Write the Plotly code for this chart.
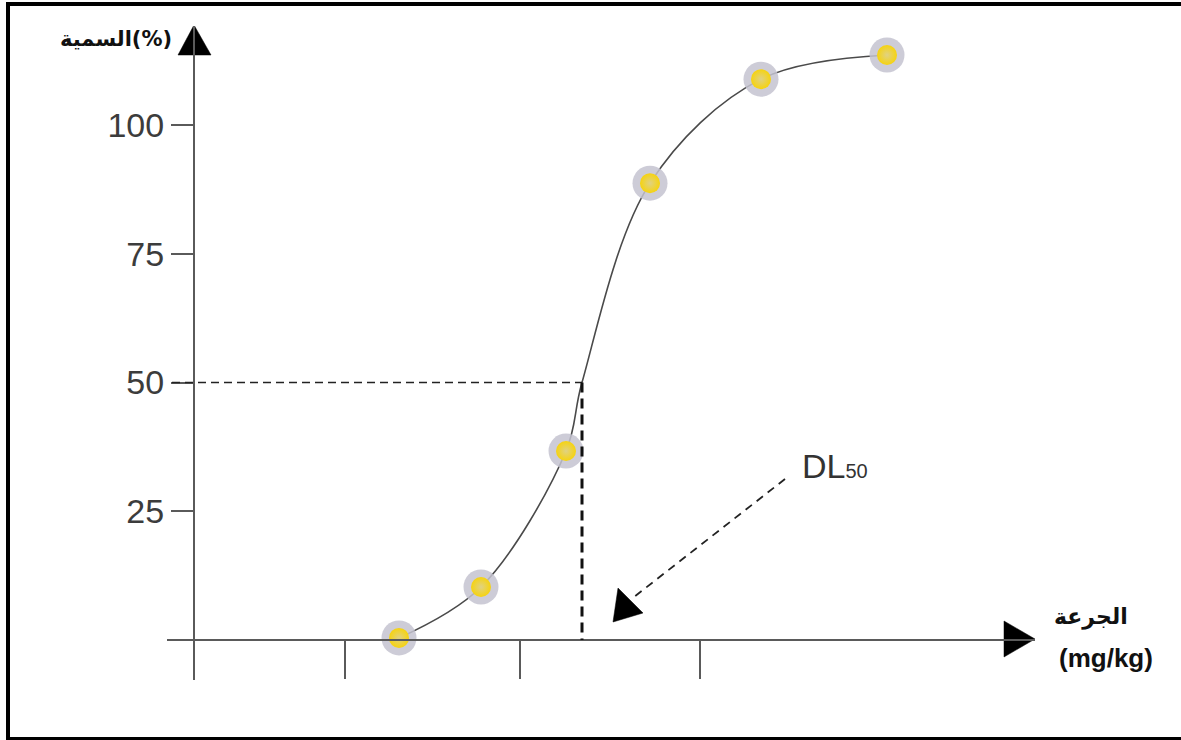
import plotly.graph_objects as go

W, H = 1181, 740

# ---------------- data ----------------
dose = [20.5, 28.7, 37.2, 45.6, 56.7, 69.3]          # arbitrary dose units
toxicity = [0.4, 10.3, 36.7, 88.7, 108.9, 113.6]     # %
dl50_dose = 38.8
dl50_tox = 50
y_ticks = [25, 50, 75, 100]
y_tick_labels = ["25", "50", "75", "100"]
x_ticks = [15.1, 32.6, 50.6]

y_title = "السمية(%)"
x_title_ar = "الجرعة"
x_title_unit = "(mg/kg)"
dl_label = "DL<span style='font-size:20px'>50</span>"

# ---------------- geometry ----------------
PXX, PXY = 10.0, 5.15          # pixels per unit
X0, Y0 = 194, 640              # pixel position of the origin
XR = [(167 - X0) / PXX, (1035 - X0) / PXX]
YR = [(Y0 - 680) / PXY, (Y0 - 26) / PXY]
ML = X0 + XR[0] * PXX
MR = W - (X0 + XR[1] * PXX)
MT = Y0 - YR[1] * PXY
MB = H - (Y0 - YR[0] * PXY)
PW, PH = W - ML - MR, H - MT - MB


def dx(px):
    return (px - X0) / PXX


def dy(py):
    return (Y0 - py) / PXY


def paper_x(px):
    return (px - ML) / PW


def paper_y(py):
    return (H - MB - py) / PH


AX = "#5a5a5a"
fig = go.Figure()

# curve through the points (incl. DL50 point)
curve = sorted(zip(dose + [dl50_dose], toxicity + [dl50_tox]))
fig.add_trace(go.Scatter(
    x=[c[0] for c in curve], y=[c[1] for c in curve], mode="lines",
    line=dict(color="#4a4a4a", width=1.6, shape="spline", smoothing=1.0),
    hoverinfo="skip", showlegend=False, cliponaxis=False))

# markers: halo + yellow core
fig.add_trace(go.Scatter(
    x=dose, y=toxicity, mode="markers",
    marker=dict(size=35, color="rgba(196,195,208,0.85)", line=dict(width=0)),
    showlegend=False, cliponaxis=False, hoverinfo="skip"))
fig.add_trace(go.Scatter(
    x=dose, y=toxicity, mode="markers",
    marker=dict(size=20, color="#f6d30f", line=dict(width=0),
                gradient=dict(type="radial", color="#e0d283")),
    showlegend=False, cliponaxis=False))

# arrow heads (filled triangles)
tri_sets = [
    [(X0, 25), (X0 - 16, 55), (X0 + 17, 55)],          # y axis
    [(1035, 639), (1004, 621), (1004, 657)],           # x axis
    [(613, 622), (618, 588), (643, 613)],              # DL50 pointer
]
for tri in tri_sets:
    fig.add_trace(go.Scatter(
        x=[dx(p[0]) for p in tri] + [dx(tri[0][0])],
        y=[dy(p[1]) for p in tri] + [dy(tri[0][1])],
        mode="lines", fill="toself", fillcolor="#000000",
        line=dict(width=0.5, color="#000000"),
        showlegend=False, hoverinfo="skip", cliponaxis=False))

shapes = [
    # DL50 reference dashed lines
    dict(type="line", xref="x", yref="y", x0=dx(172), x1=dl50_dose,
         y0=dl50_tox, y1=dl50_tox, line=dict(color="#222", width=1.6, dash="8px,5px")),
    dict(type="line", xref="x", yref="y", x0=dl50_dose, x1=dl50_dose,
         y0=dl50_tox, y1=0, line=dict(color="#111", width=3, dash="10px,6px")),
    # pointer dashed line
    dict(type="line", xref="x", yref="y", x0=dx(785), y0=dy(479), x1=dx(634), y1=dy(597),
         line=dict(color="#222", width=1.8, dash="8px,6px")),
    # frame
    dict(type="rect", xref="paper", yref="paper",
         x0=paper_x(8), x1=paper_x(1190), y0=paper_y(739), y1=paper_y(4),
         line=dict(color="#000", width=4)),
]

annotations = [
    dict(xref="paper", yref="paper", x=paper_x(116), y=paper_y(39), text=f"<b>{y_title}</b>",
         showarrow=False, font=dict(family="DejaVu Sans", size=21, color="#111"),
         xanchor="center", yanchor="middle"),
    dict(xref="paper", yref="paper", x=paper_x(1091), y=paper_y(617), text=f"<b>{x_title_ar}</b>",
         showarrow=False, font=dict(family="DejaVu Sans", size=22, color="#111"),
         xanchor="center", yanchor="middle"),
    dict(xref="paper", yref="paper", x=paper_x(1106), y=paper_y(658), text=f"<b>{x_title_unit}</b>",
         showarrow=False, font=dict(family="Liberation Sans", size=26, color="#111"),
         xanchor="center", yanchor="middle"),
    dict(xref="paper", yref="paper", x=paper_x(800), y=paper_y(466), text=dl_label,
         showarrow=False, font=dict(family="Liberation Sans", size=34, color="#333"),
         xanchor="left", yanchor="middle"),
]

fig.update_layout(
    template="none", width=W, height=H, autosize=False,
    margin=dict(l=ML, r=MR, t=MT, b=MB, pad=0),
    paper_bgcolor="white", plot_bgcolor="white", showlegend=False,
    shapes=shapes, annotations=annotations,
    xaxis=dict(range=XR, showgrid=False, zeroline=False, showline=True, linecolor=AX,
               linewidth=2, anchor="free", position=(0 - YR[0]) / (YR[1] - YR[0]),
               ticks="outside", ticklen=38, tickwidth=2, tickcolor=AX,
               tickvals=x_ticks, showticklabels=False, fixedrange=True),
    yaxis=dict(range=YR, showgrid=False, zeroline=False, showline=True, linecolor=AX,
               linewidth=2, anchor="free", position=(0 - XR[0]) / (XR[1] - XR[0]),
               ticks="outside", ticklen=22, tickwidth=2, tickcolor=AX,
               tickvals=y_ticks, ticktext=y_tick_labels,
               tickfont=dict(family="Liberation Sans", size=34, color="#3c3c3c"),
               fixedrange=True),
)

fig.write_html("out.html", config={"displayModeBar": False},
               post_script="document.body.style.margin='0';document.body.style.overflow='hidden';")
